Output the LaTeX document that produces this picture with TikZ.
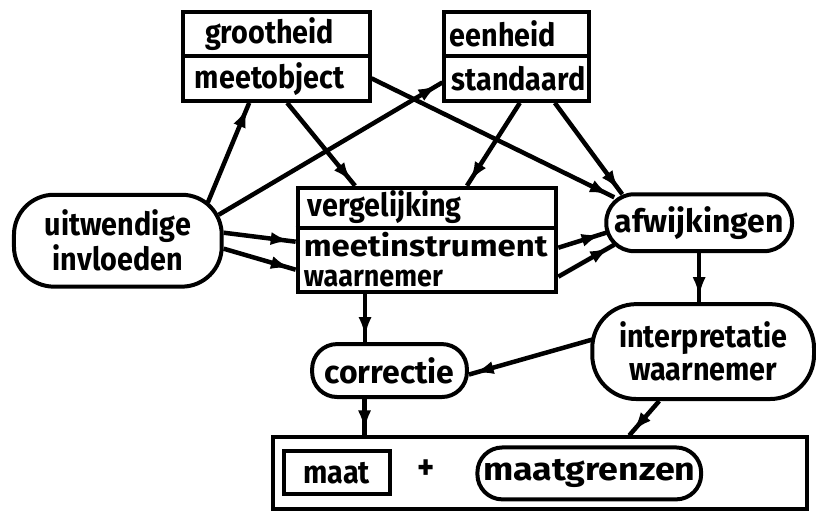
\documentclass[tikz,border=0pt]{standalone}
\usepackage{fontspec}
\setmainfont{Fira Sans}[FakeStretch=0.9]
\newfontfamily\wideA{Fira Sans}[FakeStretch=1.0]
\newfontfamily\wideB{Fira Sans}[FakeStretch=1.12]
\newfontfamily\wideM{Fira Sans}[FakeStretch=1.1]
\usetikzlibrary{arrows.meta,decorations.markings,calc}
\begin{document}
\begin{tikzpicture}[x=1pt,y=-1pt,
  font=\fontsize{32}{34}\selectfont\bfseries,
  box/.style={draw, line width=4pt, inner sep=0pt},
  pill/.style={draw, line width=4pt, rounded corners=#1, inner sep=0pt, align=center},
  lbl/.style={inner sep=0pt, anchor=west, align=left},
  divider/.style={line width=4pt},
  arr/.style={line width=4.5pt, postaction=decorate,
    decoration={markings, mark=at position -5pt with {\arrow{Latex[length=20pt,width=13pt]}}}}
]
\fill[white] (0,0) rectangle (816,513);

% top boxes
\node[box, minimum width=187pt, minimum height=89pt] (G) at (276.5,56.5) {};
\draw[divider] (G.west) -- (G.east);
\node[lbl, anchor=center] (Gt) at (270,34) {grootheid};
\node[lbl, anchor=center] (Gb) at (270,79) {meetobject};

\node[box, minimum width=145pt, minimum height=89pt] (E) at (517.5,56.5) {};
\draw[divider] (E.west) -- (E.east);
\node[lbl] (Et) at (450,34) {eenheid};
\node[lbl] (Eb) at (452,79) {standaard};

% middle box
\node[box, minimum width=259pt, minimum height=104pt] (M) at (427.5,240) {};
\draw[divider] ([yshift=12pt]M.west) -- ([yshift=12pt]M.east);
\node[lbl] (Mt) at (308,207) {vergelijking};
\node[lbl, font=\fontsize{30}{30}\selectfont\bfseries] (Mb) at (304,260) {{\wideM meetinstrument}\\waarnemer};

% rounded nodes
\node[pill=40pt, minimum width=208pt, minimum height=92pt, font=\fontsize{32}{35}\selectfont\bfseries] (U) at (118,241) {uitwendige\\invloeden};
\node[pill=28pt, minimum width=186pt, minimum height=57pt, font=\wideA\fontsize{32}{34}\selectfont\bfseries] (A) at (700,223) {afwijkingen};
\node[pill=44pt, minimum width=222pt, minimum height=95pt, font=\fontsize{32}{33}\selectfont\bfseries] (I) at (704,352) {interpretatie\\waarnemer};
\node[pill=25pt, minimum width=155pt, minimum height=53pt, font=\wideA\fontsize{32}{34}\selectfont\bfseries] (C) at (390,371) {correctie};

% bottom box
\node[box, minimum width=535pt, minimum height=72pt] (B) at (540.5,474) {};
\node[box, minimum width=106pt, minimum height=43pt] (Ma) at (337,473.5) {maat};
\node[inner sep=0pt, font=\fontsize{36}{36}\selectfont\bfseries] (P) at (427,470) {+};
\node[pill=25pt, minimum width=224pt, minimum height=52pt, font=\wideB\fontsize{32}{34}\selectfont\bfseries] (Mg) at (590,474) {maatgrenzen};

% connectors
\draw[arr] ([xshift=-16pt,yshift=38pt]U.east) -- ([xshift=-27pt]G.south);
\draw[arr] ([xshift=-5pt,yshift=26pt]U.east) -- ([yshift=-26pt]E.west);
\draw[arr] ([yshift=8pt]U.east) -- ([yshift=-2pt]M.west);
\draw[arr] ([yshift=-8pt]U.east) -- ([yshift=-30pt]M.west);
\draw[arr] ([xshift=11pt]G.south) -- ([xshift=-72pt]M.north);
\draw[arr] ([yshift=-22pt]G.east) -- ([xshift=10pt,yshift=-5pt]A.north west);
\draw[arr] ([xshift=3pt]E.south) -- ([xshift=40pt]M.north);
\draw[arr] ([xshift=38pt]E.south) -- ([xshift=18pt,yshift=-2pt]A.north west);
\draw[arr] ([yshift=-8pt]M.east) -- ([xshift=2pt,yshift=-10pt]A.west);
\draw[arr] ([yshift=-37pt]M.east) -- ([xshift=10pt,yshift=-22pt]A.west);
\draw[arr] (A.south) -- (A.south |- I.north);
\draw[arr] ([xshift=-62pt]M.south) -- ([xshift=-62pt]M.south |- C.north);
\draw[arr] ([xshift=2pt,yshift=12pt]I.west) -- ([yshift=-4pt]C.east);
\draw[arr] ([xshift=-25pt]C.south) -- ([xshift=-25pt]C.south |- B.north);
\draw[arr] ([xshift=-44pt]I.south) -- ([xshift=89.5pt]B.north);
\end{tikzpicture}
\end{document}
